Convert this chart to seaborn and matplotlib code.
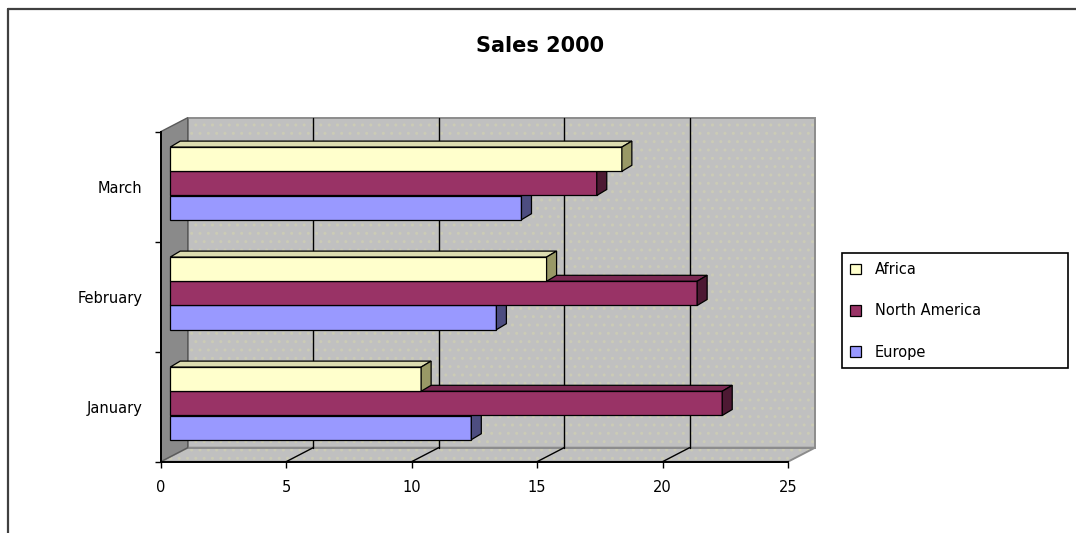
import numpy as np
import pandas as pd
import matplotlib
matplotlib.use("Agg")
import matplotlib.pyplot as plt
import matplotlib.transforms as mtransforms
from matplotlib.patches import Polygon, Patch
from matplotlib.lines import Line2D
import seaborn as sns

# ---------------- data ----------------
months = ["January", "February", "March"]
regions = ["Africa", "North America", "Europe"]
africa = [10, 15, 18]
north_america = [22, 21, 17]
europe = [12, 13, 14]
x_ticks = [0, 5, 10, 15, 20, 25]
title = "Sales 2000"

# ---------------- style ----------------
front_colors = ["#ffffcc", "#993366", "#9999ff"]
top_colors = ["#dcdcb0", "#7a2852", "#7a7acc"]
side_colors = ["#999966", "#4d1933", "#4d4d80"]
wall_color = "#c0c0c0"
side_wall_color = "#8a8a8a"

sns.set_style("ticks")
plt.rcParams["font.family"] = ["DejaVu Sans"]
plt.rcParams["hatch.linewidth"] = 1.0
for k in ["text.color", "axes.labelcolor", "xtick.color", "ytick.color"]:
    plt.rcParams[k] = "black"

W, H = 1076, 533
fig = plt.figure(figsize=(W / 100, H / 100), dpi=100)
fig.patch.set_facecolor("white")


def fx(px):
    return px / W


def fy(py):
    return 1 - py / H


L, R, T, B = 160.7, 788.0, 131.7, 461.7
ax = fig.add_axes([fx(L), fy(B), fx(R) - fx(L), fy(T) - fy(B)])
ax.patch.set_visible(False)

df = pd.DataFrame({
    "Month": months * 3,
    "Region": np.repeat(regions, len(months)),
    "Sales": africa + north_america + europe,
})
order = months[::-1]
sns.barplot(data=df, x="Sales", y="Month", hue="Region", order=order,
            hue_order=regions, palette=front_colors, width=0.66, orient="h",
            saturation=1, edgecolor="black", linewidth=0.9, legend=False,
            errorbar=None, ax=ax)
ax.set_xlim(0, 25)
ax.set_ylim(2.5, -0.5)


def pt(x, y, dx=0.0, dy=0.0):
    """data point shifted by (dx, dy) image pixels (dy positive = down)."""
    X, Y = ax.transData.transform((x, y))
    s = fig.dpi / 100.0
    return ax.transData.inverted().transform((X + dx * s, Y - dy * s))


DW = (27.0, -14.0)   # wall depth
BO = (9.5, -3.3)     # bar plane offset
DB = (10.0, -6.0)    # bar depth

y_lo, y_hi = 2.5, -0.5  # bottom, top in data
x_max = 25

# back wall
back = [pt(0, y_lo, *DW), pt(x_max, y_lo, *DW), pt(x_max, y_hi, *DW), pt(0, y_hi, *DW)]
ax.add_patch(Polygon(back, closed=True, facecolor=wall_color, edgecolor="#cbcbb6",
                     hatch="..", linewidth=0, zorder=1, clip_on=False))
ax.add_patch(Polygon(back, closed=True, facecolor="none", edgecolor="#8c8c8c",
                     linewidth=1.4, zorder=1.2, clip_on=False))
# floor
floor = [pt(0, y_lo), pt(x_max, y_lo), pt(x_max, y_lo, *DW), pt(0, y_lo, *DW)]
ax.add_patch(Polygon(floor, closed=True, facecolor=wall_color, edgecolor="#cbcbb6",
                     hatch="..", linewidth=0, zorder=1, clip_on=False))
ax.add_patch(Polygon(floor, closed=True, facecolor="none", edgecolor="#8c8c8c",
                     linewidth=1.4, zorder=1.2, clip_on=False))
# left wall
lw_poly = [pt(0, y_lo), pt(0, y_hi), pt(0, y_hi, *DW), pt(0, y_lo, *DW)]
ax.add_patch(Polygon(lw_poly, closed=True, facecolor=side_wall_color,
                     edgecolor="#5a5a5a", linewidth=1.0, zorder=1.3, clip_on=False))

# grid lines on back wall and floor
for v in x_ticks[1:-1]:
    p0, p1 = pt(v, y_lo, *DW), pt(v, y_hi, *DW)
    ax.add_line(Line2D([p0[0], p1[0]], [p0[1], p1[1]], color="black", lw=1.0,
                       zorder=1.5, clip_on=False))
    q0, q1 = pt(v, y_lo), pt(v, y_lo, *DW)
    ax.add_line(Line2D([q0[0], q1[0]], [q0[1], q1[1]], color="black", lw=1.0,
                       zorder=1.5, clip_on=False))

# 3-D bars
shift = mtransforms.ScaledTranslation(BO[0] / 100, -BO[1] / 100, fig.dpi_scale_trans)
for i, cont in enumerate(ax.containers):
    z = 10 - 2 * i
    for bar in cont:
        x0, w = bar.get_x(), bar.get_width()
        y0, h = bar.get_y(), bar.get_height()
        x1, y1 = x0 + w, y0 + h
        bar.set_transform(ax.transData + shift)
        bar.set_zorder(z)
        bar.set_clip_on(False)
        top = [pt(x0, y0, *BO), pt(x1, y0, *BO),
               pt(x1, y0, BO[0] + DB[0], BO[1] + DB[1]),
               pt(x0, y0, BO[0] + DB[0], BO[1] + DB[1])]
        side = [pt(x1, y0, *BO), pt(x1, y1, *BO),
                pt(x1, y1, BO[0] + DB[0], BO[1] + DB[1]),
                pt(x1, y0, BO[0] + DB[0], BO[1] + DB[1])]
        ax.add_patch(Polygon(top, closed=True, facecolor=top_colors[i],
                             edgecolor="black", linewidth=0.9, zorder=z - 0.5,
                             clip_on=False))
        ax.add_patch(Polygon(side, closed=True, facecolor=side_colors[i],
                             edgecolor="black", linewidth=0.9, zorder=z + 0.5,
                             clip_on=False))

# axes styling
for s in ["top", "right"]:
    ax.spines[s].set_visible(False)
for s in ["left", "bottom"]:
    ax.spines[s].set_color("black")
    ax.spines[s].set_linewidth(1.4)
    ax.spines[s].set_zorder(3)
ax.set_xticks(x_ticks)
ax.set_xticklabels([str(t) for t in x_ticks], fontsize=10.5)
ax.set_yticks([-0.5, 0.5, 1.5, 2.5])
ax.set_yticklabels([""] * 4)
ax.set_yticks([0, 1, 2], minor=True)
ax.set_yticklabels(order, minor=True, fontsize=10.5)
ax.tick_params(axis="x", which="major", length=4.5, width=1.0, color="black", pad=9)
ax.tick_params(axis="y", which="major", length=4, width=1.0, color="black")
ax.tick_params(axis="y", which="minor", length=0, pad=13)
ax.set_xlabel("")
ax.set_ylabel("")

# title
fig.text(fx(540), fy(46), title, ha="center", va="center", fontsize=15,
         fontweight="bold")

# legend
handles = [Patch(facecolor=c, edgecolor="black", linewidth=0.9) for c in front_colors]
leg = fig.legend(handles, regions, loc="upper left",
                 bbox_to_anchor=(fx(841.7), fy(366), fx(1068) - fx(841.7), fy(253.3) - fy(366)),
                 mode="expand", borderaxespad=0, fancybox=False, framealpha=1,
                 edgecolor="black", fontsize=10.5, handlelength=0.75, handleheight=0.75,
                 handletextpad=0.9, labelspacing=1.8, borderpad=0.6)
leg.get_frame().set_linewidth(1.2)

# chart area border (left and top)
fig.add_artist(Line2D([fx(8), fx(8)], [fy(9), 0], transform=fig.transFigure,
                      color="#404040", lw=1.6))
fig.add_artist(Line2D([fx(8), 1], [fy(9), fy(9)], transform=fig.transFigure,
                      color="#404040", lw=1.6))

fig.savefig("out.png", dpi=100)
